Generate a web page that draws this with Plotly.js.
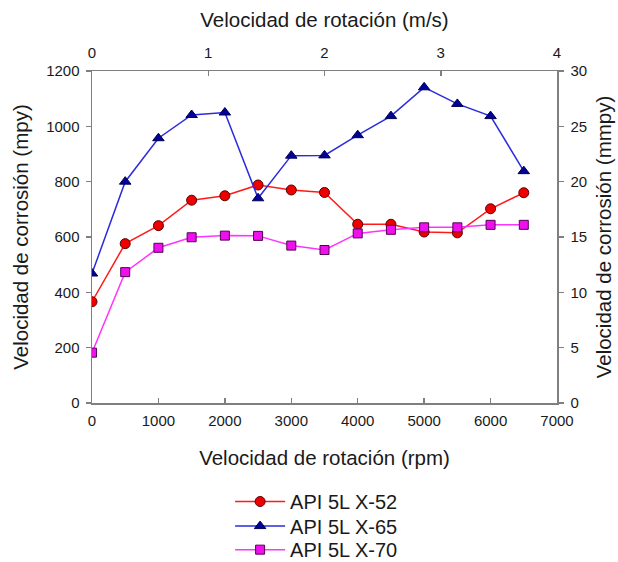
<!DOCTYPE html>
<html>
<head>
<meta charset="utf-8">
<script src="https://cdn.plot.ly/plotly-3.0.1.min.js"></script>
<style>html,body{margin:0;padding:0;background:#fff;}#chart{width:618px;height:562px;}</style>
</head>
<body>
<div id="chart"></div>
<script>
const rpm = [0, 500, 1000, 1500, 2000, 2500, 3000, 3500, 4000, 4500, 5000, 5500, 6000, 6500];
const x52 = [366, 576, 641, 733, 749, 788, 770, 761, 646, 646, 618, 615, 702, 760];
const x65 = [468, 800, 957, 1041, 1050, 740, 894, 895, 968, 1037, 1141, 1081, 1037, 838];
const x70 = [182, 473, 561, 599, 605, 604, 569, 553, 613, 626, 635, 635, 644, 644];
const names = ["API 5L X-52", "API 5L X-65", "API 5L X-70"];

const font = "Liberation Sans, Arial, sans-serif";
const axisCol = "#7f7f7f";
const txt = "#1a1a1a";

const traces = [
  {x: rpm, y: x52, name: names[0], mode: "lines+markers", legend: "legend",
   line: {color: "#ff1a1a", width: 1.5},
   marker: {symbol: "circle", size: 10, color: "#ee0000", line: {color: "#5a0000", width: 1}}},
  {x: rpm, y: x65, name: names[1], mode: "lines+markers", legend: "legend2",
   line: {color: "#2b2bdd", width: 1.5},
   marker: {symbol: "triangle-up", size: 10, color: "#00009a", line: {color: "#000050", width: 1}}},
  {x: rpm, y: x70, name: names[2], mode: "lines+markers", legend: "legend3",
   line: {color: "#ff33ff", width: 1.5},
   marker: {symbol: "square", size: 9, color: "#ee11ee", line: {color: "#550055", width: 1}}},
  {x: [], y: [], xaxis: "x2", yaxis: "y2", showlegend: false, hoverinfo: "skip", mode: "lines"}
];

const axBase = {
  showgrid: false, zeroline: false, showline: true, linecolor: axisCol, linewidth: 1.5,
  ticklen: 5, tickcolor: axisCol, tickwidth: 1.5,
  tickfont: {family: font, size: 15, color: txt}
};
const titleFont = {family: font, size: 20.5, color: txt};
const legBase = {x: 0.297, xanchor: "left", yanchor: "top", itemwidth: 50,
                 font: {family: font, size: 20, color: txt}, bgcolor: "rgba(0,0,0,0)"};

const layout = {
  width: 618, height: 562,
  margin: {l: 92, r: 61, t: 71, b: 159, autoexpand: false},
  paper_bgcolor: "#fff", plot_bgcolor: "#fff",
  font: {family: font, color: txt},
  showlegend: true,
  legend: Object.assign({}, legBase, {y: -0.238}),
  legend2: Object.assign({}, legBase, {y: -0.312}),
  legend3: Object.assign({}, legBase, {y: -0.383}),
  xaxis: Object.assign({}, axBase, {range: [0, 7000], dtick: 1000, ticks: "inside", ticklabelstandoff: 3,
    title: {text: "Velocidad de rotación (rpm)", font: titleFont, standoff: 23}}),
  yaxis: Object.assign({}, axBase, {range: [0, 1200], dtick: 200, ticks: "outside", ticklabelstandoff: 3,
    title: {text: "Velocidad de corrosión (mpy)", font: titleFont, standoff: 12}}),
  xaxis2: Object.assign({}, axBase, {range: [0, 4], dtick: 1, ticks: "inside", overlaying: "x", side: "top", anchor: "y2", ticklabelstandoff: 6,
    title: {text: "Velocidad de rotación (m/s)", font: titleFont, standoff: 10}}),
  yaxis2: Object.assign({}, axBase, {range: [0, 30], dtick: 5, ticks: "outside", overlaying: "y", side: "right", anchor: "x2", ticklabelstandoff: 4,
    title: {text: "Velocidad de corrosión (mmpy)", font: titleFont, standoff: 10}})
};

Plotly.newPlot("chart", traces, layout, {displayModeBar: false, staticPlot: true});
</script>
</body>
</html>
